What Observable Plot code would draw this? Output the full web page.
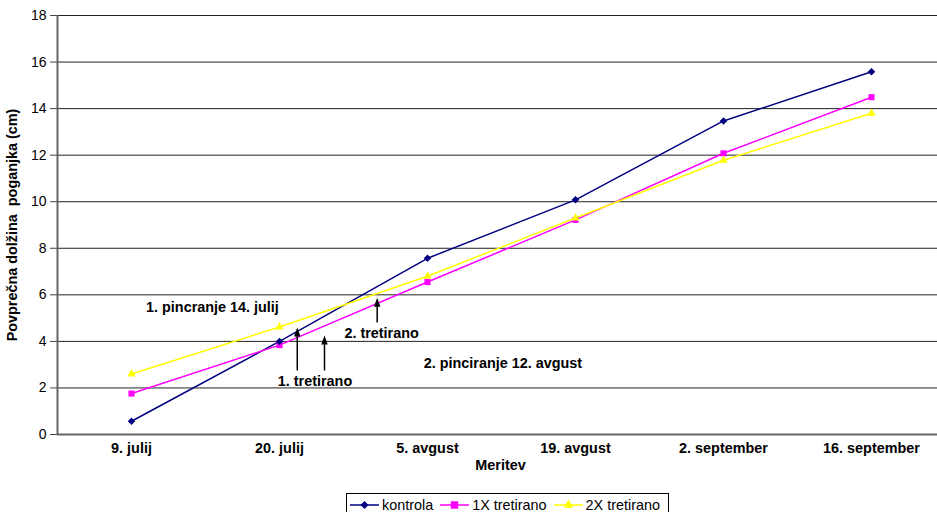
<!DOCTYPE html>
<html>
<head>
<meta charset="utf-8">
<script src="https://cdn.jsdelivr.net/npm/d3@7"></script>
<script src="https://cdn.jsdelivr.net/npm/@observablehq/plot@0.6"></script>
<style>
  body { margin: 0; background: #fff; font-family: Arial, "Liberation Sans", sans-serif; }
  #wrap { position: relative; width: 937px; height: 512px; overflow: hidden; }
  #legend { position: absolute; left: 346px; top: 493px; width: 323px; height: 26px; border: 1px solid #000; display: flex; align-items: flex-start; font-size: 14.4px; line-height: 16px; color: #000; box-sizing: border-box; padding: 3px 0 0 3px; }
  #legend .item { display: flex; align-items: center; margin-right: 7px; }
  #legend svg { margin-right: 3px; }
</style>
</head>
<body>
<div id="wrap"></div>
<script>
// ---- data ----
const categories = ["9. julij", "20. julij", "5. avgust", "19. avgust", "2. september", "16. september"];
const kontrola = [0.57, 4.0, 7.57, 10.08, 13.47, 15.58];
const tretirano1X = [1.76, 3.84, 6.55, 9.22, 12.08, 14.49];
const tretirano2X = [2.6, 4.62, 6.8, 9.3, 11.78, 13.8];
const seriesNames = ["kontrola", "1X tretirano", "2X tretirano"];
const yTicks = [0, 2, 4, 6, 8, 10, 12, 14, 16, 18];

// annotations (x in category index units, y in cm)
const annoText = ["1. pincranje 14. julij", "1. tretirano", "2. tretirano", "2. pinciranje 12. avgust"];
const annoX = [0.547, 1.24, 1.69, 2.51];
const annoY = [5.45, 2.28, 4.34, 3.06];
const arrowX = [1.12, 1.304, 1.66];
const arrowFrom = [2.75, 2.75, 4.81];
const arrowTo = [4.6, 4.25, 5.88];

// ---- build ----
const colors = {"kontrola": "#000080", "1X tretirano": "#FF00FF", "2X tretirano": "#FFFF00"};
const diamond = {
  draw(ctx, size) {
    const s = Math.sqrt(size / 2);
    ctx.moveTo(0, -s); ctx.lineTo(s, 0); ctx.lineTo(0, s); ctx.lineTo(-s, 0); ctx.closePath();
  }
};
const arrowHead = {
  draw(ctx, size) {
    ctx.moveTo(0, 0); ctx.lineTo(-3.2, 9); ctx.lineTo(3.2, 9); ctx.closePath();
  }
};
const symbols = {"kontrola": diamond, "1X tretirano": d3.symbolSquare, "2X tretirano": d3.symbolTriangle};
const radii = {"kontrola": 3.6, "1X tretirano": 4.7, "2X tretirano": 3.9};

const rows = [];
[kontrola, tretirano1X, tretirano2X].forEach((vals, s) => {
  vals.forEach((v, i) => rows.push({series: seriesNames[s], i, v}));
});
const annos = annoText.map((t, k) => ({t, x: annoX[k], y: annoY[k]}));
const arrows = arrowX.map((x, k) => ({x, y1: arrowFrom[k], y2: arrowTo[k]}));

const font = 'Arial, "Liberation Sans", sans-serif';
const fs = 14.4;
const chart = Plot.plot({
  width: 937,
  height: 490,
  marginLeft: 57,
  marginRight: 0,
  marginTop: 15,
  marginBottom: 56,
  style: {fontFamily: font, fontSize: fs + "px", color: "#000", background: "#fff", overflow: "visible"},
  x: {type: "linear", domain: [-0.5, 5.5], range: [57, 945]},
  y: {domain: [0, 18]},
  marks: [
    Plot.ruleY(yTicks.filter(d => d > 0), {stroke: "#222", strokeWidth: 1}),
    Plot.ruleY([0], {stroke: "#666", strokeWidth: 2}),
    Plot.ruleX([-0.5], {stroke: "#666", strokeWidth: 2}),
    Plot.axisY({ticks: yTicks, tickSize: 7, tickPadding: 4, label: null, stroke: "#444", fontSize: 14}),
    Plot.axisX({ticks: d3.range(categories.length), tickFormat: i => categories[i], tickSize: 0, tickPadding: 8, label: null, fontWeight: "bold", fontSize: fs}),
    Plot.text(["Meritev"], {frameAnchor: "bottom", dx: 3, dy: 35, fontWeight: "bold", fontSize: fs}),
    Plot.text(["Povprečna dolžina\u00a0 poganjka (cm)"], {frameAnchor: "left", textAnchor: "middle", rotate: -90, dx: -45, fontWeight: "bold", fontSize: fs}),
    Plot.line(rows, {x: "i", y: "v", z: "series", stroke: d => colors[d.series], strokeWidth: 1.5}),
    Plot.dot(rows, {x: "i", y: "v", symbol: d => symbols[d.series], r: d => radii[d.series], fill: d => colors[d.series], stroke: "none"}),
    Plot.link(arrows, {x1: "x", x2: "x", y1: "y1", y2: d => d.y2 - 0.3, stroke: "#000", strokeWidth: 1.5}),
    Plot.dot(arrows, {x: "x", y: "y2", symbol: arrowHead, r: 3, fill: "#000", stroke: "none"}),
    Plot.text(annos, {x: "x", y: "y", text: "t", fontWeight: "bold", fontSize: fs, fill: "#000"})
  ]
});
document.getElementById("wrap").appendChild(chart);

// legend
const legend = document.createElement("div");
legend.id = "legend";
seriesNames.forEach(name => {
  const item = document.createElement("div");
  item.className = "item";
  const svg = d3.create("svg").attr("width", 29).attr("height", 16);
  svg.append("line").attr("x1", 0).attr("x2", 29).attr("y1", 8).attr("y2", 8).attr("stroke", colors[name]).attr("stroke-width", 1.5);
  svg.append("path").attr("transform", "translate(14.5,8)").attr("fill", colors[name])
    .attr("d", d3.symbol(symbols[name], Math.PI * radii[name] * radii[name] * 0.8)());
  item.appendChild(svg.node());
  const span = document.createElement("span");
  span.textContent = name;
  item.appendChild(span);
  legend.appendChild(item);
});
document.getElementById("wrap").appendChild(legend);
</script>
</body>
</html>
